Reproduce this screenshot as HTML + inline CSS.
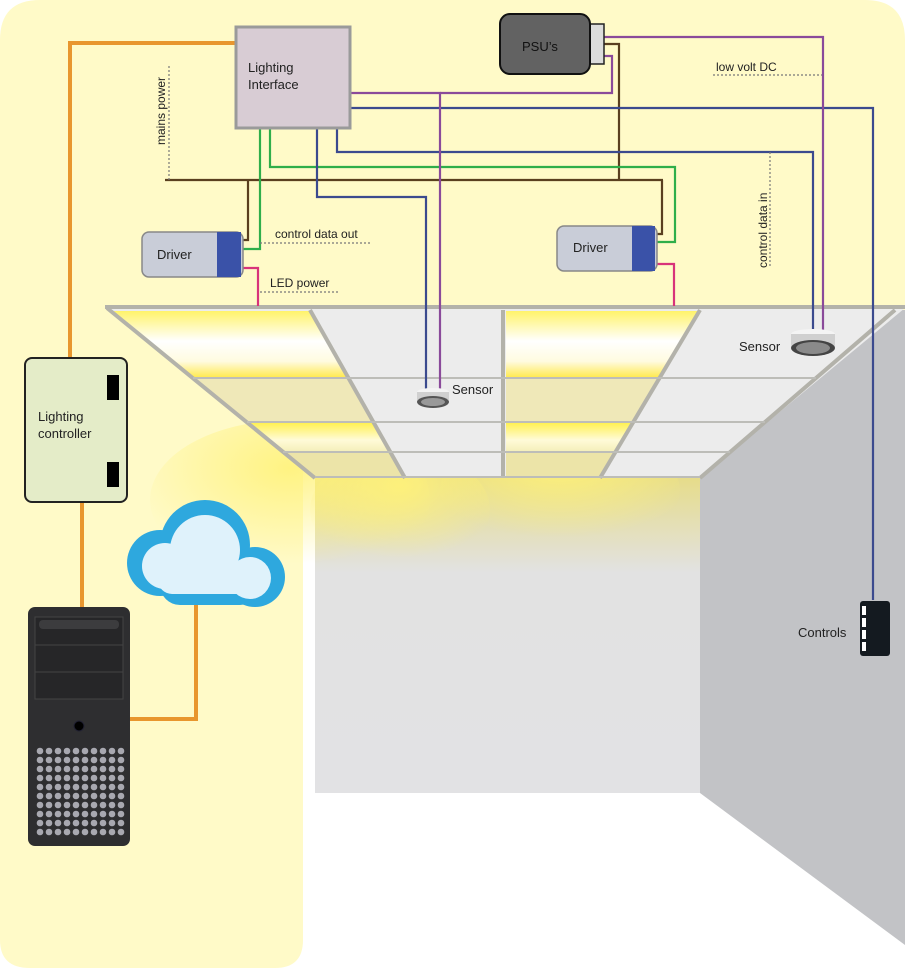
<!DOCTYPE html>
<html><head><meta charset="utf-8"><style>
html,body{margin:0;padding:0;background:#fff;}
svg{display:block;font-family:"Liberation Sans",sans-serif;}
</style></head><body>
<svg width="920" height="970" viewBox="0 0 920 970" xmlns="http://www.w3.org/2000/svg">
<defs>
<linearGradient id="lit" x1="0" y1="0" x2="0" y2="1">
<stop offset="0" stop-color="#fff36a"/><stop offset="0.45" stop-color="#ffffff"/><stop offset="0.75" stop-color="#fffbe0"/><stop offset="1" stop-color="#ffe94a"/></linearGradient>
<linearGradient id="lit2" x1="0" y1="0" x2="0" y2="1">
<stop offset="0" stop-color="#fff04a"/><stop offset="0.6" stop-color="#fffbd8"/><stop offset="1" stop-color="#f4eeb8"/></linearGradient>
<radialGradient id="glow" cx="0.5" cy="0.3" r="0.6">
<stop offset="0" stop-color="#fff27a" stop-opacity="0.9"/><stop offset="1" stop-color="#fff27a" stop-opacity="0"/></radialGradient>
<linearGradient id="wallg" x1="0" y1="0" x2="0" y2="1">
<stop offset="0" stop-color="#e6dc8a"/><stop offset="0.3" stop-color="#e2e2e2"/><stop offset="1" stop-color="#e2e2e4"/></linearGradient>
<pattern id="dp" x="36" y="747" width="9" height="9" patternUnits="userSpaceOnUse"><circle cx="4" cy="4" r="3.3" fill="#a8a8b0"/></pattern>
</defs>
<path d="M40 0 H865 Q905 0 905 40 V310 H303 V940 Q303 968 275 968 H30 Q0 968 0 940 V40 Q0 0 40 0Z" fill="#fffac8"/>
<rect x="315" y="478" width="385" height="315" fill="url(#wallg)"/>
<polygon points="700,478 895,310 905,310 905,945 700,793" fill="#c2c3c6"/>
<ellipse cx="290" cy="500" rx="140" ry="80" fill="url(#glow)"/>
<ellipse cx="400" cy="510" rx="90" ry="60" fill="url(#glow)"/>
<ellipse cx="560" cy="490" rx="120" ry="60" fill="url(#glow)"/>
<polygon points="107,308 905,308 700,478 315,478" fill="#ececec"/>
<polygon points="193,378 348,378 390,452 283,452" fill="#efe8b8"/>
<polygon points="506,378 660,378 615,452 506,452" fill="#efe8b8"/>
<polygon points="283,452 390,452 405,478 315,478" fill="#ece4a8"/>
<polygon points="506,452 615,452 600,478 506,478" fill="#ece4a8"/>
<polygon points="112,311 310,311 348,378 193,378" fill="url(#lit)"/>
<polygon points="506,311 700,311 660,378 506,378" fill="url(#lit)"/>
<polygon points="247,422 373,422 390,452 283,452" fill="url(#lit2)"/>
<polygon points="506,422 633,422 615,452 506,452" fill="url(#lit2)"/>
<g stroke="#b3b2aa" stroke-width="4" fill="none">
<line x1="105" y1="307" x2="905" y2="307"/>
<line x1="107" y1="308" x2="315" y2="478"/>
<line x1="895" y1="310" x2="700" y2="478"/>
<line x1="310" y1="310" x2="405" y2="478"/>
<line x1="503" y1="310" x2="503" y2="478"/>
<line x1="700" y1="310" x2="600" y2="478"/>
</g>
<g stroke="#bdbdb8" stroke-width="2">
<line x1="193" y1="378" x2="816" y2="378"/>
<line x1="247" y1="422" x2="765" y2="422"/>
<line x1="283" y1="452" x2="730" y2="452"/>
<line x1="315" y1="477" x2="700" y2="477"/>
</g>
<g fill="none" stroke-width="2.2">
<polyline points="236,43 70,43 70,358" stroke="#e8962e" stroke-width="4"/>
<line x1="82" y1="502" x2="82" y2="607" stroke="#e8962e" stroke-width="4"/>
<polyline points="130,719 196,719 196,598" stroke="#e8962e" stroke-width="4"/>
<polyline points="604,44 619,44 619,180" stroke="#5a3f1f"/>
<line x1="165" y1="180" x2="663" y2="180" stroke="#5a3f1f"/>
<polyline points="248,180 248,240 243,240" stroke="#5a3f1f"/>
<polyline points="662,180 662,234 657,234" stroke="#5a3f1f"/>
<polyline points="260,128 260,249 243,249" stroke="#2fae4a"/>
<polyline points="270,128 270,167 675,167 675,242 657,242" stroke="#2fae4a"/>
<polyline points="317,128 317,197 426,197 426,392" stroke="#3b4a8e"/>
<polyline points="337,128 337,152 813,152 813,334" stroke="#3b4a8e"/>
<polyline points="350,108 873,108 873,600" stroke="#3b4a8e"/>
<polyline points="350,93 440,93 440,392" stroke="#8a4a9a"/>
<polyline points="604,56 612,56 612,93 440,93" stroke="#8a4a9a"/>
<polyline points="604,37 823,37 823,334" stroke="#8a4a9a"/>
<polyline points="243,268 258,268 258,306" stroke="#d8337a"/>
<polyline points="657,264 674,264 674,306" stroke="#d8337a"/>
</g>
<g stroke="#777" stroke-width="1.2" stroke-dasharray="2,2" fill="none">
<line x1="169" y1="66" x2="169" y2="180"/>
<line x1="260" y1="243" x2="370" y2="243"/>
<line x1="260" y1="292" x2="338" y2="292"/>
<line x1="713" y1="75" x2="822" y2="75"/>
<line x1="770" y1="152" x2="770" y2="268"/>
</g>
<g fill="#222" font-size="12">
<text transform="translate(165,145) rotate(-90)">mains power</text>
<text x="275" y="238">control data out</text>
<text x="270" y="287">LED power</text>
<text x="716" y="71">low volt DC</text>
<text transform="translate(767,268) rotate(-90)">control data in</text>
</g>
<rect x="236" y="27" width="114" height="101" fill="#d8ccd4" stroke="#9a9a9a" stroke-width="3"/>
<text x="248" y="72" font-size="13" fill="#222">Lighting</text>
<text x="248" y="89" font-size="13" fill="#222">Interface</text>
<rect x="590" y="24" width="14" height="40" fill="#dcdcdc" stroke="#222" stroke-width="1.5"/>
<rect x="500" y="14" width="90" height="60" rx="10" fill="#626262" stroke="#111" stroke-width="2"/>
<text x="522" y="51" font-size="13" fill="#111">PSU’s</text>
<rect x="142" y="232" width="101" height="45" rx="7" fill="#c9cdd8" stroke="#888" stroke-width="1.5"/>
<rect x="217" y="232" width="24" height="45" fill="#3a52a8"/>
<text x="157" y="259" font-size="13" fill="#222">Driver</text>
<rect x="557" y="226" width="100" height="45" rx="7" fill="#c9cdd8" stroke="#888" stroke-width="1.5"/>
<rect x="632" y="226" width="23" height="45" fill="#3a52a8"/>
<text x="573" y="252" font-size="13" fill="#222">Driver</text>
<ellipse cx="433" cy="392" rx="16" ry="4" fill="#f4f4f4"/>
<rect x="417" y="392" width="32" height="10" fill="#d0d0d0"/>
<ellipse cx="433" cy="402" rx="16" ry="6" fill="#555"/>
<ellipse cx="433" cy="402" rx="12" ry="4" fill="#999"/>
<text x="452" y="394" font-size="13" fill="#222">Sensor</text>
<ellipse cx="813" cy="334" rx="22" ry="5" fill="#f4f4f4"/>
<rect x="791" y="334" width="44" height="14" fill="#d0d0d0"/>
<ellipse cx="813" cy="348" rx="22" ry="8" fill="#444"/>
<ellipse cx="813" cy="348" rx="17" ry="6" fill="#8a8a8a"/>
<text x="739" y="351" font-size="13" fill="#222">Sensor</text>
<rect x="860" y="601" width="30" height="55" rx="3" fill="#141a20"/>
<g fill="#fff"><rect x="862" y="606" width="4" height="9"/><rect x="862" y="618" width="4" height="9"/><rect x="862" y="630" width="4" height="9"/><rect x="862" y="642" width="4" height="9"/></g>
<text x="798" y="637" font-size="13" fill="#222">Controls</text>
<rect x="25" y="358" width="102" height="144" rx="7" fill="#e4ecc8" stroke="#222" stroke-width="2"/>
<rect x="107" y="375" width="12" height="25" fill="#000"/>
<rect x="107" y="462" width="12" height="25" fill="#000"/>
<text x="38" y="421" font-size="13" fill="#222">Lighting</text>
<text x="38" y="438" font-size="13" fill="#222">controller</text>
<g fill="#2ea8de">
<circle cx="205" cy="545" r="45"/><circle cx="160" cy="563" r="33"/><circle cx="255" cy="577" r="30"/><rect x="160" y="560" width="100" height="45" rx="20"/>
</g>
<g fill="#dff2fb">
<circle cx="205" cy="550" r="35"/><circle cx="165" cy="566" r="23"/><circle cx="250" cy="578" r="21"/><rect x="158" y="565" width="100" height="29" rx="14"/>
</g>
<rect x="28" y="607" width="102" height="239" rx="7" fill="#2e2e30"/>
<rect x="35" y="617" width="88" height="82" fill="#262628" stroke="#444" stroke-width="1"/>
<line x1="35" y1="645" x2="123" y2="645" stroke="#444"/>
<line x1="35" y1="672" x2="123" y2="672" stroke="#444"/>
<rect x="39" y="620" width="80" height="9" rx="4" fill="#3c3c3e"/>
<circle cx="79" cy="726" r="5" fill="#000" stroke="#223"/>
<rect x="36" y="747" width="90" height="90" fill="url(#dp)"/>
</svg>
</body></html>
